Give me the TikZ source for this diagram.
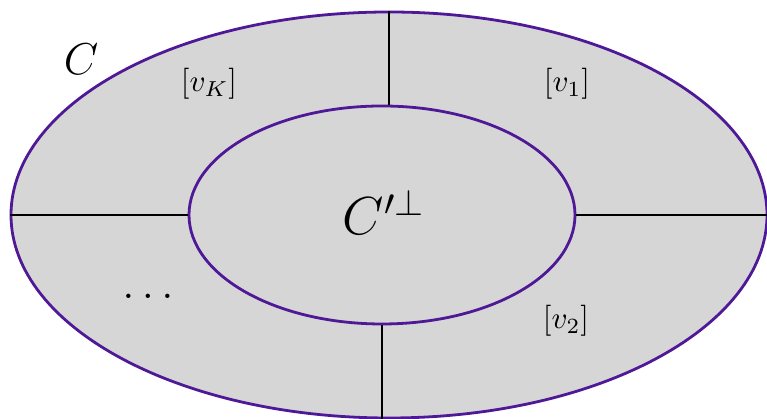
\documentclass[tikz,border=0pt]{standalone}
\usetikzlibrary{shapes.geometric}
\definecolor{ringpurple}{RGB}{78,24,150}
\definecolor{ringgray}{RGB}{214,214,214}
\tikzset{
  ring/.style={ellipse, draw=ringpurple, fill=ringgray, line width=0.9pt, inner sep=0pt},
  divider/.style={draw=black, line width=0.6pt},
  lbl/.style={inner sep=0pt}
}
\begin{document}
\begin{tikzpicture}[x=0.3226pt,y=-0.3226pt]
\useasboundingbox (0,0) rectangle (767,419);
\node[ring, minimum width=756*0.3226pt, minimum height=406*0.3226pt] (outer) at (389,215) {};
\node[ring, minimum width=386*0.3226pt, minimum height=218*0.3226pt] (inner) at (382,215) {};
\draw[divider] (outer.north) -- (outer.north |- inner.north);
\draw[divider] (inner.south) -- (inner.south |- outer.south);
\draw[divider] (outer.west) -- (inner.west);
\draw[divider] (inner.east) -- (outer.east);
\node[lbl] (lc) at (81,59) {\Large $C$};
\node[lbl] (lcp) at (384,212) {\LARGE $C'^{\perp}$};
\node[lbl] (lvk) at (209,84) {$[v_K]$};
\node[lbl] (lv1) at (567,84) {$[v_1]$};
\node[lbl] (lv2) at (566,321) {$[v_2]$};
\node[lbl] (ldots) at (148,296) {\Large $\dots$};
\end{tikzpicture}
\end{document}
